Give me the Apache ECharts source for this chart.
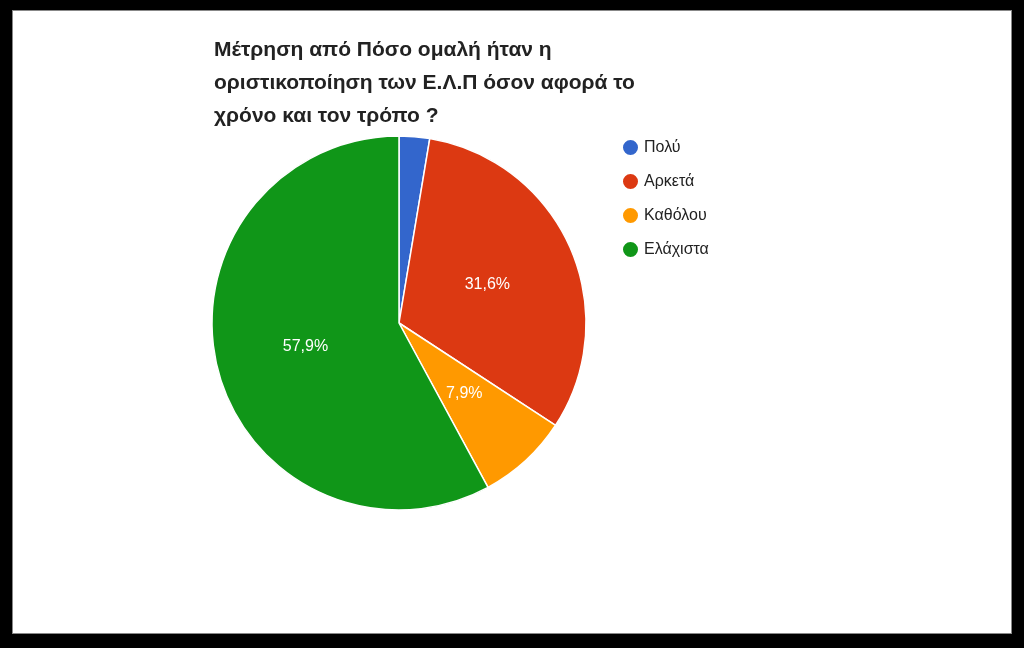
<!DOCTYPE html>
<html><head><meta charset="utf-8">
<script src="https://cdn.jsdelivr.net/npm/echarts@6/dist/echarts.min.js"></script>
<style>
html,body{margin:0;padding:0;background:#000;width:1024px;height:648px;overflow:hidden}
#card{position:absolute;left:12px;top:10px;width:998px;height:622px;background:#fff;border:1px solid #888}
#c{position:absolute;left:0;top:0;width:998px;height:622px}
</style></head><body>
<div id="card"><div id="c"></div></div>
<script>
const categories=['Πολύ','Αρκετά','Καθόλου','Ελάχιστα'];
const values=[1,12,3,22];
const colors=['#3366cc','#dc3912','#ff9900','#109618'];
const titleText='Μέτρηση από Πόσο ομαλή ήταν η\nοριστικοποίηση των Ε.Λ.Π όσον αφορά το\nχρόνο και τον τρόπο ?';
const chart=echarts.init(document.getElementById('c'));
chart.setOption({
  animation:false,
  color:colors,
  title:{text:titleText,left:196,top:18,textStyle:{fontFamily:'Liberation Sans',fontSize:21,fontWeight:'bold',color:'#222',lineHeight:33}},
  legend:{orient:'vertical',left:603,top:122,icon:'circle',itemWidth:17,itemHeight:17,itemGap:15,
    textStyle:{fontFamily:'Liberation Sans',fontSize:16,color:'#222'},data:categories},
  series:[{type:'pie',center:[386,312],radius:[0,187],startAngle:90,clockwise:true,
    label:{show:true,position:'inside',color:'#fff',fontFamily:'Liberation Sans',fontSize:16,
      formatter:p=>p.percent<5?'':p.percent.toFixed(1).replace('.',',')+'%'},
    labelLine:{show:false},
    itemStyle:{borderColor:'#fff',borderWidth:1.5},
    data:categories.map((n,i)=>({name:n,value:values[i]}))}]
});
</script></body></html>
